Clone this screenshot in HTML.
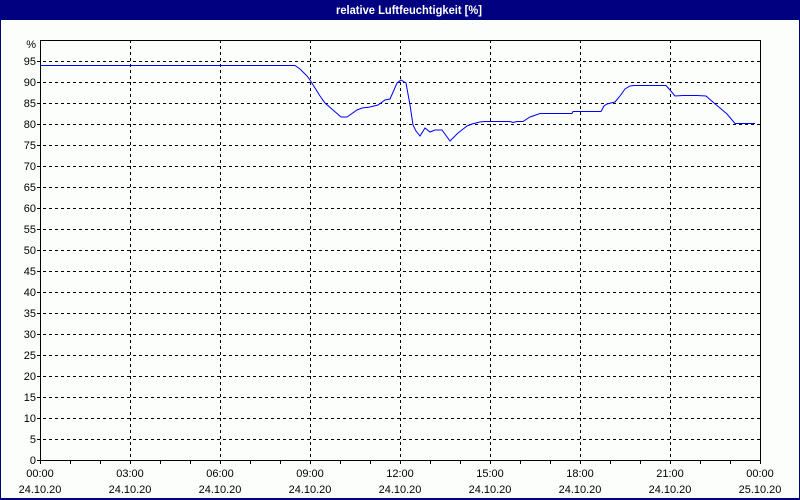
<!DOCTYPE html>
<html><head><meta charset="utf-8">
<style>
html,body{margin:0;padding:0;background:#fff;}
svg{display:block;}
text{font-family:"Liberation Sans",Tahoma,sans-serif;font-size:11px;fill:#000;}
</style></head>
<body>
<svg width="800" height="500" viewBox="0 0 800 500" xmlns="http://www.w3.org/2000/svg">
<rect x="0" y="0" width="800" height="500" fill="#fcfefc"/>
<!-- frame -->
<rect x="0" y="0" width="800" height="20" fill="#000080"/>
<rect x="0" y="0" width="1" height="500" fill="#000080"/>
<rect x="799" y="0" width="1" height="500" fill="#000080"/>
<rect x="0" y="498" width="800" height="2" fill="#000080"/>
<text x="409" y="14" text-anchor="middle" style="font-weight:bold;font-size:12px;fill:#fff" textLength="146" lengthAdjust="spacingAndGlyphs">relative Luftfeuchtigkeit [%]</text>

<g shape-rendering="crispEdges" stroke="#000" stroke-width="1" fill="none">
<!-- horizontal grid -->
<g stroke-dasharray="3,3">
<path stroke-dashoffset="3" d="M40 61.5H760M40 82.5H760M40 103.5H760M40 124.5H760M40 145.5H760M40 166.5H760M40 187.5H760M40 208.5H760M40 229.5H760M40 250.5H760M40 271.5H760M40 292.5H760M40 313.5H760M40 334.5H760M40 355.5H760M40 376.5H760M40 397.5H760M40 418.5H760M40 439.5H760"/>
<path d="M130.5 40V460M220.5 40V460M310.5 40V460M400.5 40V460M490.5 40V460M580.5 40V460M670.5 40V460"/>
</g>
<!-- box -->
<path d="M40.5 40V460.5H760.5V40.5H40"/>
<!-- x ticks -->
<path d="M40.5 460V464M70.5 460V464M100.5 460V464M130.5 460V464M160.5 460V464M190.5 460V464M220.5 460V464M250.5 460V464M280.5 460V464M310.5 460V464M340.5 460V464M370.5 460V464M400.5 460V464M430.5 460V464M460.5 460V464M490.5 460V464M520.5 460V464M550.5 460V464M580.5 460V464M610.5 460V464M640.5 460V464M670.5 460V464M700.5 460V464M730.5 460V464M760.5 460V464"/>
<!-- y ticks -->
<path d="M37 61.5H40M37 82.5H40M37 103.5H40M37 124.5H40M37 145.5H40M37 166.5H40M37 187.5H40M37 208.5H40M37 229.5H40M37 250.5H40M37 271.5H40M37 292.5H40M37 313.5H40M37 334.5H40M37 355.5H40M37 376.5H40M37 397.5H40M37 418.5H40M37 439.5H40M37 460.5H40"/>
</g>

<!-- y labels -->
<g text-anchor="end">
<text x="36" y="48">%</text>
<text x="36" y="65">95</text>
<text x="36" y="86">90</text>
<text x="36" y="107">85</text>
<text x="36" y="128">80</text>
<text x="36" y="149">75</text>
<text x="36" y="170">70</text>
<text x="36" y="191">65</text>
<text x="36" y="212">60</text>
<text x="36" y="233">55</text>
<text x="36" y="254">50</text>
<text x="36" y="275">45</text>
<text x="36" y="296">40</text>
<text x="36" y="317">35</text>
<text x="36" y="338">30</text>
<text x="36" y="359">25</text>
<text x="36" y="380">20</text>
<text x="36" y="401">15</text>
<text x="36" y="422">10</text>
<text x="36" y="443">5</text>
<text x="36" y="464">0</text>
</g>

<!-- x labels -->
<g text-anchor="middle">
<text x="40" y="477">00:00</text><text x="40" y="493">24.10.20</text>
<text x="130" y="477">03:00</text><text x="130" y="493">24.10.20</text>
<text x="220" y="477">06:00</text><text x="220" y="493">24.10.20</text>
<text x="310" y="477">09:00</text><text x="310" y="493">24.10.20</text>
<text x="400" y="477">12:00</text><text x="400" y="493">24.10.20</text>
<text x="490" y="477">15:00</text><text x="490" y="493">24.10.20</text>
<text x="580" y="477">18:00</text><text x="580" y="493">24.10.20</text>
<text x="670" y="477">21:00</text><text x="670" y="493">24.10.20</text>
<text x="760" y="477">00:00</text><text x="760" y="493">25.10.20</text>
</g>

<!-- data -->
<polyline fill="none" stroke="#0000ff" stroke-width="1" points="40,65.5 295,65.5 300,69 307,76 310,80 315,88 320,96 325,103 333,110 341,117 347,117 357,110 362,108 370,107 378,105 385,100 390,99 394,90 397,83 401,80 406,83 410,105 413,125 416,131 420,136 425,128 430,132 435,130 442,130 450,141 458,133 467,126 472,124 480,122 485,121.5 490,121.5 510,121.5 513,122.5 517,121.5 523,121.5 530,117 540,113.5 572,113.5 573,111.5 601,111.5 604,106 607,104 615,102 620,96 625,89 630,86 634,85.5 666,85.5 670,90 675,96 683,95.5 697,95.5 706,96 714,103 720,108 727,114 735,123.5 741,123.5 755,123.5"/>
</svg>
</body></html>
